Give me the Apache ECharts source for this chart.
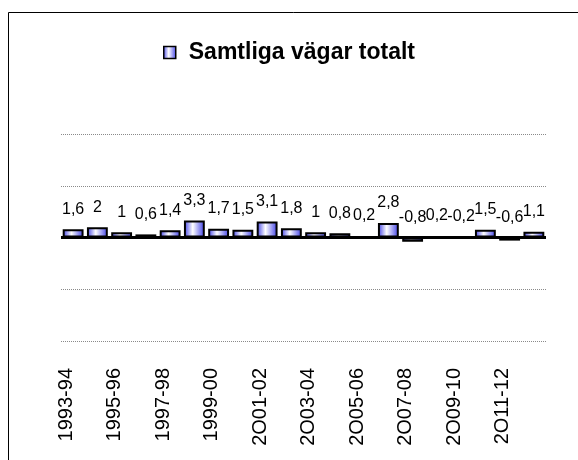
<!DOCTYPE html>
<html>
<head>
<meta charset="utf-8">
<script src="https://cdn.jsdelivr.net/npm/echarts@6/dist/echarts.min.js"></script>
<style>
html,body{margin:0;padding:0;background:#fff;}
#c{width:578px;height:460px;}
</style>
</head>
<body>
<div id="c"></div>
<script>
var seriesName = 'Samtliga vägar totalt';
var categories = ['1993-94','1994-95','1995-96','1996-97','1997-98','1998-99','1999-00','2O00-01','2O01-02','2O02-03','2O03-04','2O04-05','2O05-06','2O06-07','2O07-08','2O08-09','2O09-10','2O10-11','2O11-12','2O12-13'];
var values = [1.6, 2, 1, 0.6, 1.4, 3.3, 1.7, 1.5, 3.1, 1.8, 1, 0.8, 0.2, 2.8, -0.8, 0.2, -0.2, 1.5, -0.6, 1.1];
var yMin = -20, yMax = 20, yStep = 10;

var FONT = 'Liberation Sans, Arial, sans-serif';
var barFill = new echarts.graphic.LinearGradient(0, 0, 1, 0, [
  {offset: 0, color: '#3c3ce6'},
  {offset: 0.42, color: '#ffffff'},
  {offset: 1, color: '#3c3ce6'}
]);

var chart = echarts.init(document.getElementById('c'), null, {renderer: 'canvas'});
chart.setOption({
  animation: false,
  backgroundColor: '#ffffff',
  graphic: [
    {type: 'polyline', shape: {points: [[8.5, 460], [8.5, 12.5], [578, 12.5]]}, style: {stroke: '#000', lineWidth: 1, fill: null}, silent: true}
  ],
  legend: {
    left: 158, top: 36,
    itemWidth: 12, itemHeight: 12,
    icon: 'rect',
    itemStyle: {color: barFill, borderColor: '#000', borderWidth: 1.5},
    textStyle: {fontFamily: FONT, fontWeight: 'bold', fontSize: 23, color: '#000', padding: [0, 0, 0, 8]},
    data: [seriesName]
  },
  grid: {left: 61, right: 32, top: 134, bottom: 119, containLabel: false},
  xAxis: {
    type: 'category',
    data: categories,
    axisLine: {show: false, onZero: false},
    axisTick: {show: false},
    axisLabel: {
      interval: 1, rotate: 90, margin: 27,
      fontFamily: FONT, fontSize: 20, color: '#000',
      verticalAlign: 'bottom', lineHeight: 14
    },
    splitLine: {show: false}
  },
  yAxis: {
    type: 'value', min: yMin, max: yMax, interval: yStep,
    axisLine: {show: false}, axisTick: {show: false}, axisLabel: {show: false},
    splitLine: {show: true, lineStyle: {color: '#8a8a8a', type: 'dotted', width: 1}}
  },
  series: [{
    name: seriesName,
    type: 'bar',
    data: values,
    barCategoryGap: '14%',
    itemStyle: {color: barFill, borderColor: '#000', borderWidth: 2},
    label: {
      show: true, position: 'top', distance: 12,
      fontFamily: FONT, fontSize: 16, color: '#000',
      formatter: function (p) { return String(p.value).replace('.', ','); }
    },
    markLine: {
      silent: true, symbol: 'none',
      label: {show: false},
      lineStyle: {color: '#000', width: 3, type: 'solid'},
      data: [{yAxis: 0}]
    }
  }]
});
</script>
</body>
</html>
